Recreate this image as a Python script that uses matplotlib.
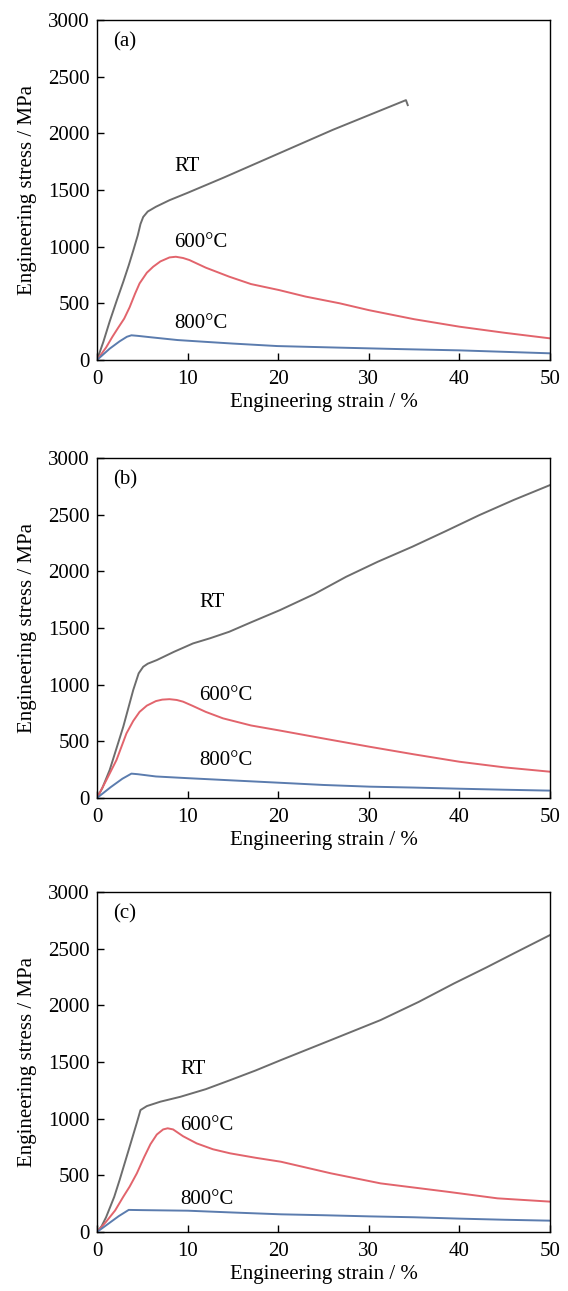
import matplotlib
matplotlib.use("Agg")
import matplotlib.pyplot as plt

plt.rcParams['font.family'] = ['Liberation Serif', 'DejaVu Serif']

# ---------------- data ----------------
# panel (a)
rt_a_x = [0, 0.7, 1.4, 2.2, 2.9, 3.5, 4.0, 4.5, 4.8, 5.1, 5.6, 6.5, 8, 10, 14, 18, 22, 26, 30, 34.1, 34.3]
rt_a_y = [0, 160, 340, 530, 690, 835, 965, 1100, 1200, 1262, 1310, 1352, 1410, 1475, 1610, 1750, 1890, 2030, 2160, 2293, 2249]
t600_a_x = [0, 1.0, 1.7, 2.3, 3.0, 3.6, 4.2, 4.7, 5.5, 6.2, 7.0, 8.0, 8.7, 9.5, 10.2, 12, 14.6, 17, 20.1, 23, 26.8, 30, 35, 40, 45, 50]
t600_a_y = [0, 110, 205, 280, 365, 465, 585, 676, 770, 823, 870, 905, 911, 900, 882, 815, 735, 670, 617, 560, 500, 440, 360, 294, 240, 191]
t800_a_x = [0, 1.4, 2.5, 3.3, 3.8, 4.5, 6, 8.9, 12, 15, 19.9, 26.8, 33, 40, 45, 50]
t800_a_y = [0, 100, 165, 205, 218, 213, 200, 176, 160, 145, 123, 109, 97, 85, 72, 59]

# panel (b)
rt_b_x = [0, 0.6, 1.4, 2.9, 4.0, 4.6, 5.1, 5.6, 6.6, 8.5, 10.6, 12.5, 14.6, 17, 20.2, 24, 27.5, 31, 34.8, 38.5, 42.2, 46, 50]
rt_b_y = [0, 90, 247, 629, 953, 1100, 1158, 1185, 1217, 1290, 1364, 1410, 1467, 1550, 1658, 1800, 1952, 2085, 2217, 2355, 2496, 2630, 2761]
t600_b_x = [0, 1.04, 2.15, 3.25, 4.0, 4.7, 5.5, 6.5, 7.2, 8.0, 8.8, 9.5, 10.5, 12, 13.9, 17, 20.2, 25, 30.1, 35, 40, 45, 50]
t600_b_y = [0, 159, 335, 570, 680, 760, 815, 855, 868, 872, 865, 850, 815, 760, 703, 640, 595, 525, 452, 385, 320, 270, 232]
t800_b_x = [0, 1.5, 2.8, 3.8, 4.5, 6.5, 10, 15, 21.3, 25, 30.1, 35, 40, 45, 50]
t800_b_y = [0, 95, 170, 215, 210, 190, 175, 155, 130, 115, 100, 92, 82, 73, 65]

# panel (c)
rt_c_x = [0, 0.5, 1.0, 1.9, 2.5, 3.5, 4.4, 4.8, 5.5, 7, 9.2, 12, 14.7, 17.5, 20.3, 25.8, 31.3, 35.5, 39.4, 43, 46, 50]
rt_c_y = [0, 50, 130, 310, 460, 725, 965, 1076, 1111, 1150, 1193, 1260, 1340, 1425, 1517, 1693, 1870, 2030, 2193, 2335, 2458, 2620]
t600_c_x = [0, 1.0, 2.0, 2.9, 3.6, 4.4, 5.2, 5.9, 6.6, 7.3, 7.8, 8.4, 9.5, 11, 12.8, 14.7, 17.5, 20.3, 25.8, 31.3, 38.7, 44.2, 50]
t600_c_y = [0, 90, 190, 311, 400, 518, 660, 775, 860, 905, 915, 905, 845, 782, 730, 694, 655, 620, 518, 429, 355, 297, 268]
t800_c_x = [0, 1.2, 2.4, 3.5, 5, 10, 15, 20.3, 25, 30, 35, 40, 45, 50]
t800_c_y = [0, 70, 140, 195, 193, 188, 172, 156, 148, 138, 130, 118, 108, 100]

panel_tags = ['(a)', '(b)', '(c)']
curve_names = ['RT', '600°C', '800°C']
x_ticks = [0, 10, 20, 30, 40, 50]
y_ticks = [0, 500, 1000, 1500, 2000, 2500, 3000]

panels = [
    [(rt_a_x, rt_a_y), (t600_a_x, t600_a_y), (t800_a_x, t800_a_y)],
    [(rt_b_x, rt_b_y), (t600_b_x, t600_b_y), (t800_b_x, t800_b_y)],
    [(rt_c_x, rt_c_y), (t600_c_x, t600_c_y), (t800_c_x, t800_c_y)],
]
# label anchor positions (left edge, centre) in data coords
label_pos = [
    [(8.5, 1711), (8.5, 1040), (8.5, 318)],
    [(11.3, 1729), (11.3, 900), (11.3, 335)],
    [(9.2, 1438), (9.2, 944), (9.2, 291)],
]

colors = ['#6d6d6d', '#e2646c', '#5b7cae']

W, H = 568, 1291
fig = plt.figure(figsize=(W / 100, H / 100), dpi=100)
left = 97 / W
width = (550 - 97) / W
tops = [20, 458, 892]
ph = 340

for i, top in enumerate(tops):
    ax = fig.add_axes([left, 1 - (top + ph) / H, width, ph / H])
    for (xs, ys), c in zip(panels[i], colors):
        ax.plot(xs, ys, color=c, lw=1.4)
    ax.set_xlim(0, 50)
    ax.set_ylim(0, 3000)
    ax.set_xticks(x_ticks)
    ax.set_yticks(y_ticks)
    ax.tick_params(direction='in', length=5, width=1, labelsize=15,
                   top=False, right=False, pad=5)
    ax.tick_params(axis='x', pad=7)
    for sp in ax.spines.values():
        sp.set_linewidth(1.0)
    ax.set_xlabel('Engineering strain / %', fontsize=15, labelpad=3)
    ax.set_ylabel('Engineering stress / MPa', fontsize=15, labelpad=8)
    ax.text(1.8, 2810, panel_tags[i], fontsize=15, ha='left', va='center')
    for name, (tx, ty) in zip(curve_names, label_pos[i]):
        ax.text(tx, ty, name, fontsize=15, ha='left', va='center')

fig.savefig('out.png', dpi=100)
